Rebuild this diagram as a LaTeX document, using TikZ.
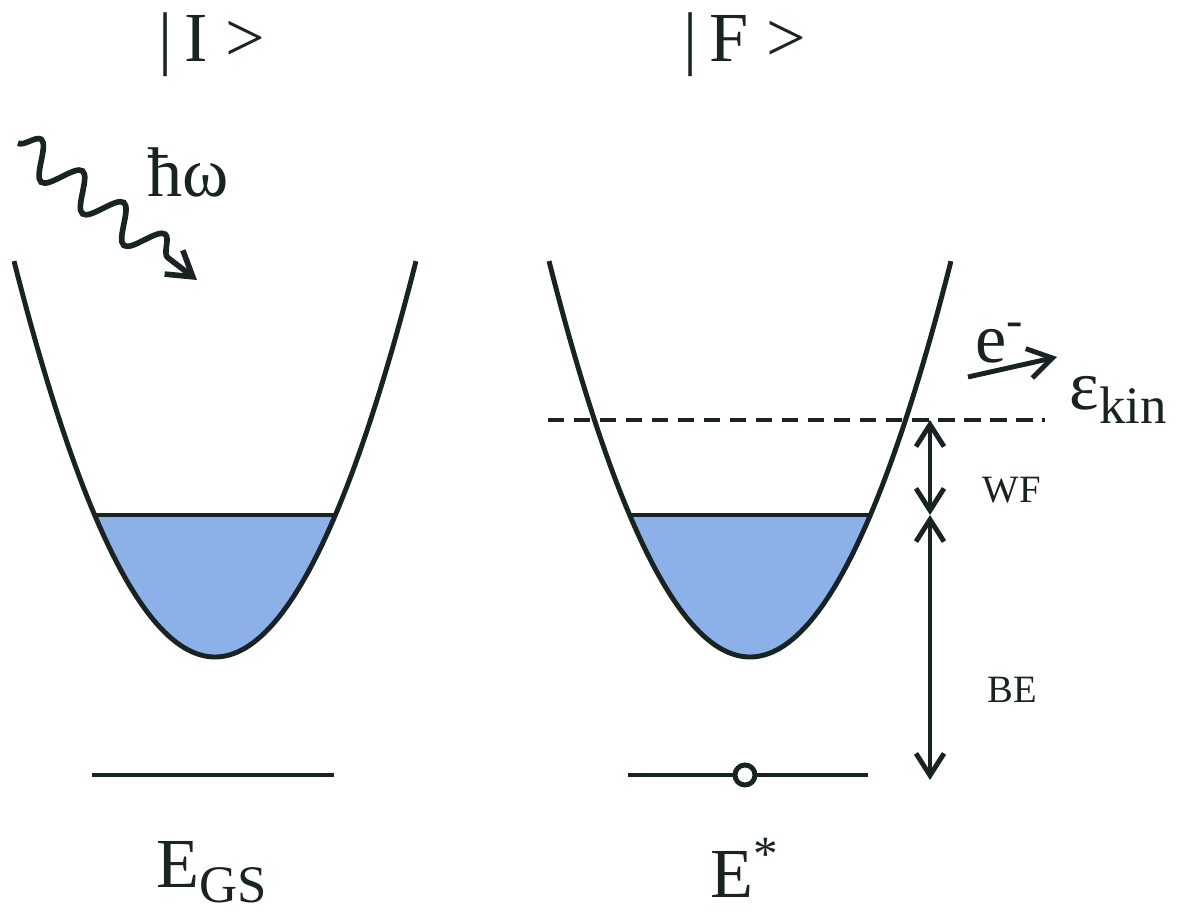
\documentclass[tikz,border=0pt]{standalone}
\usepackage{fontspec}
\setmainfont{Liberation Serif}
\usetikzlibrary{arrows.meta,decorations.pathmorphing}
\definecolor{bandblue}{RGB}{140,176,232}
\definecolor{ink}{RGB}{25,35,35}
\newcommand{\lowsub}[1]{\raisebox{-0.45ex}{\fontsize{15}{18}\selectfont #1}}
\begin{document}
\begin{tikzpicture}[x=0.01cm, y=-0.01cm, line width=1.4pt, draw=ink, samples=100,
	tip/.style={-{Straight Barb[length=2.4mm,width=3mm]}},
	bothtips/.style={{Straight Barb[length=2.2mm,width=2.8mm]}-{Straight Barb[length=2.2mm,width=2.8mm]}},
	big/.style={font=\fontsize{20}{24}\selectfont, text=ink},
	small/.style={font=\fontsize{11}{13}\selectfont, text=ink}]
	\useasboundingbox (0,0) rectangle (1181,924);

	% initial state |I>
	\fill[bandblue] plot[domain=-1.204:1.204] ({215+100*\x}, {657-98*\x*\x}) -- cycle;
	\coordinate (IL) at (94.6,515);
	\coordinate (IR) at (335.4,515);
	\draw (IL) -- (IR);
	\draw plot[domain=-2.01:2.01] ({215+100*\x}, {657-98*\x*\x});
	\coordinate (GSL) at (92,775);
	\coordinate (GSR) at (334,775);
	\draw (GSL) -- (GSR);

	% final state |F>
	\fill[bandblue] plot[domain=-1.204:1.204] ({750+100*\x}, {657-98*\x*\x}) -- cycle;
	\coordinate (FL) at (629.6,515);
	\coordinate (FR) at (870.4,515);
	\draw (FL) -- (FR);
	\draw plot[domain=-2.01:2.01] ({750+100*\x}, {657-98*\x*\x});
	\node[circle, draw=ink, fill=white, line width=1.4pt, inner sep=0pt, minimum size=0.2cm] (hole) at (745,775) {};
	\coordinate (XL) at (628,775);
	\coordinate (XR) at (868,775);
	\draw (XL) -- (hole) -- (XR);

	% vacuum level and energies
	\coordinate (VL) at (548,420);
	\coordinate (VR) at (1045,420);
	\draw[dash pattern=on 4.6pt off 2.8pt] (VL) -- (VR);
	\coordinate (vac) at (930,420);
	\coordinate (fermi) at (930,515);
	\coordinate (core) at (930,780);
	\draw[bothtips] (vac) -- (fermi);
	\draw[bothtips] (fermi) -- (core);
	\node[small] (WF) at (1012,490) {WF};
	\node[small] (BE) at (1012,690) {BE};

	% photon in, electron out
	\coordinate (ph0) at (18,143);
	\coordinate (ph1) at (197,280);
	\draw[tip, line width=1.6pt, decorate, decoration={snake, amplitude=1.7mm, segment length=5.2mm, post length=2.6mm}] (ph0) -- (ph1);
	\node[big] (hw) at (188,172) {ħω};
	\coordinate (el0) at (968,377);
	\coordinate (el1) at (1057,357);
	\draw[tip] (el0) -- (el1);
	\node[big] (el) at (1000,343) {e\textsuperscript{-}};
	\node[big] (ekin) at (1118,400) {ε\lowsub{kin}};

	% labels
	\node[big] (I) at (212,45) {|\,I >};
	\node[big] (F) at (745,45) {|\,F >};
	\node[big] (EGS) at (212,872) {E\lowsub{GS}};
	\node[big] (Estar) at (745,868) {E\textsuperscript{*}};

\end{tikzpicture}
\end{document}
